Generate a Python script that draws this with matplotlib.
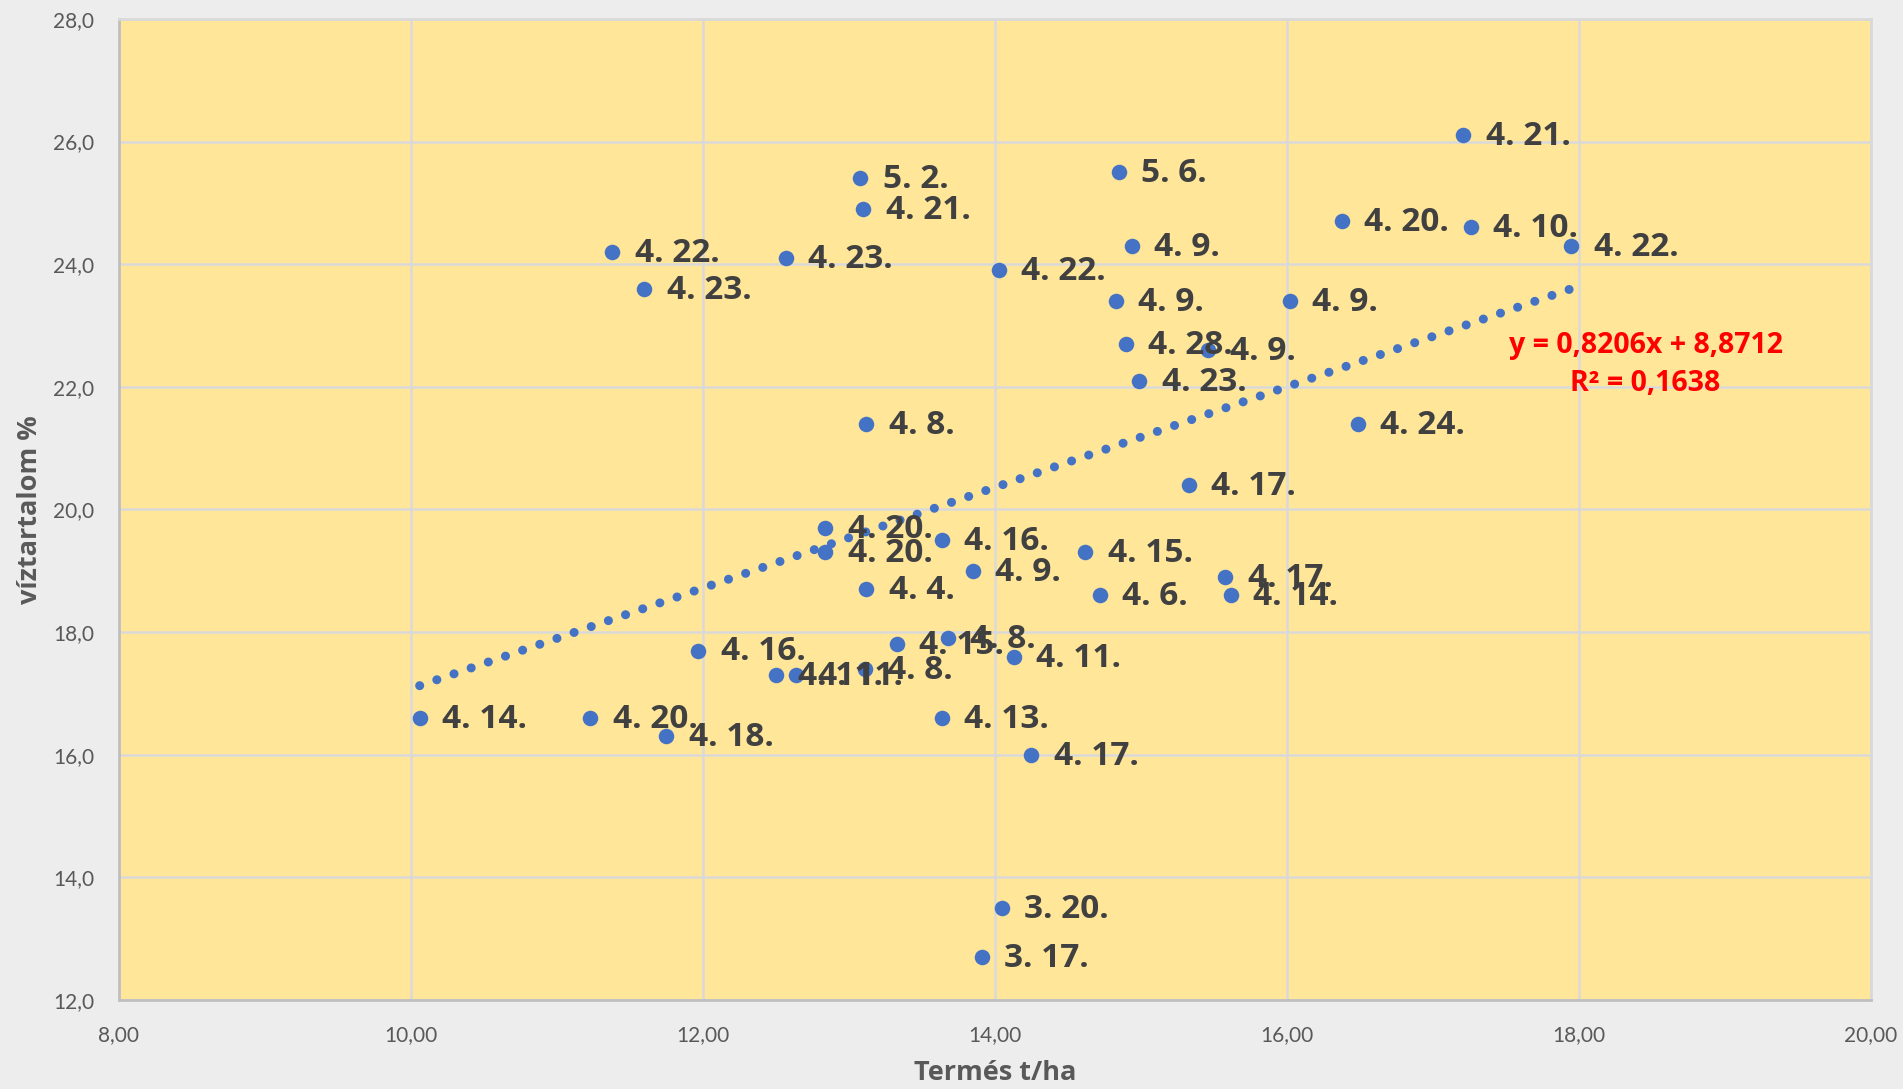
import matplotlib
matplotlib.use("Agg")
import matplotlib.pyplot as plt
from matplotlib.ticker import FuncFormatter, MultipleLocator
import numpy as np

plt.rcParams["font.family"] = ["Lato", "DejaVu Sans"]
BOLD_FONT = ["Open Sans", "DejaVu Sans"]

# Termés t/ha, víztartalom %, label (date)
yield_t = [17.21, 13.08, 14.85, 13.10, 16.38, 17.26, 17.95, 14.94, 11.38, 12.57,
           14.03, 11.60, 14.83, 16.02, 14.90, 15.46, 14.99, 13.12, 16.49, 15.33,
           12.84, 12.84, 13.64, 14.62, 13.85, 15.58, 13.12, 14.72, 15.62, 11.97,
           13.33, 13.68, 14.13, 12.50, 12.64, 13.11, 10.06, 11.23, 11.75, 13.64,
           14.25, 14.05, 13.91]
water = [26.1, 25.4, 25.5, 24.9, 24.7, 24.6, 24.3, 24.3, 24.2, 24.1,
         23.9, 23.6, 23.4, 23.4, 22.7, 22.6, 22.1, 21.4, 21.4, 20.4,
         19.7, 19.3, 19.5, 19.3, 19.0, 18.9, 18.7, 18.6, 18.6, 17.7,
         17.8, 17.9, 17.6, 17.3, 17.3, 17.4, 16.6, 16.6, 16.3, 16.6,
         16.0, 13.5, 12.7]
labels = ["4. 21.", "5. 2.", "5. 6.", "4. 21.", "4. 20.", "4. 10.", "4. 22.", "4. 9.", "4. 22.", "4. 23.",
          "4. 22.", "4. 23.", "4. 9.", "4. 9.", "4. 28.", "4. 9.", "4. 23.", "4. 8.", "4. 24.", "4. 17.",
          "4. 20.", "4. 20.", "4. 16.", "4. 15.", "4. 9.", "4. 17.", "4. 4.", "4. 6.", "4. 14.", "4. 16.",
          "4. 15.", "4. 8.", "4. 11.", "4. 11.", "4. 11.", "4. 8.", "4. 14.", "4. 20.", "4. 18.", "4. 13.",
          "4. 17.", "3. 20.", "3. 17."]

slope, intercept = 0.8206, 8.8712
r2 = 0.1638

fig = plt.figure(figsize=(19.03, 10.89), dpi=100, facecolor="#EDEDED")
ax = fig.add_axes([0.0625, 0.0817, 0.9205, 0.9009])
ax.set_facecolor("#FFE699")

ax.set_xlim(8, 20)
ax.set_ylim(12, 28)
ax.xaxis.set_major_locator(MultipleLocator(2))
ax.yaxis.set_major_locator(MultipleLocator(2))
ax.xaxis.set_major_formatter(FuncFormatter(lambda v, p: f"{v:.2f}".replace(".", ",")))
ax.yaxis.set_major_formatter(FuncFormatter(lambda v, p: f"{v:.1f}".replace(".", ",")))
ax.grid(True, color="#D9D9D9", linewidth=1.8, zorder=0)
ax.set_axisbelow(True)
ax.tick_params(length=0, labelsize=15, colors="#595959", pad=18)

for side in ("top", "right"):
    ax.spines[side].set_color("#D9D9D9")
    ax.spines[side].set_linewidth(2)
for side in ("left", "bottom"):
    ax.spines[side].set_color("#BFBFBF")
    ax.spines[side].set_linewidth(2)

# linear trendline
xs = np.array([min(yield_t), max(yield_t)])
ax.plot(xs, slope * xs + intercept, color="#4472C4", linewidth=6.5,
        linestyle=(0, (0.01, 2.0)), dash_capstyle="round", zorder=2)

ax.scatter(yield_t, water, s=125, color="#4472C4", zorder=3, linewidths=0)

for x, y, lab in zip(yield_t, water, labels):
    ax.annotate(lab, (x, y), xytext=(16, -1), textcoords="offset points",
                ha="left", va="center", fontsize=24, fontweight="bold",
                family=BOLD_FONT, color="#404040", zorder=4)

ax.text(0.8715, 0.667, f"y = {slope:.4f}x + {intercept:.4f}".replace(".", ","),
        transform=ax.transAxes, ha="center", va="center", family=BOLD_FONT,
        fontsize=20.5, fontweight="bold", color="#FF0000")
ax.text(0.8715, 0.628, f"R² = {r2:.4f}".replace(".", ","),
        transform=ax.transAxes, ha="center", va="center", family=BOLD_FONT,
        fontsize=20.5, fontweight="bold", color="#FF0000")

ax.set_xlabel("Termés t/ha", fontsize=19.5, fontweight="bold", family=BOLD_FONT,
              color="#595959", labelpad=11)
ax.set_ylabel("víztartalom %", fontsize=19.5, fontweight="bold", family=BOLD_FONT,
              color="#595959", labelpad=7)

fig.savefig("out.png", dpi=100, facecolor=fig.get_facecolor())
